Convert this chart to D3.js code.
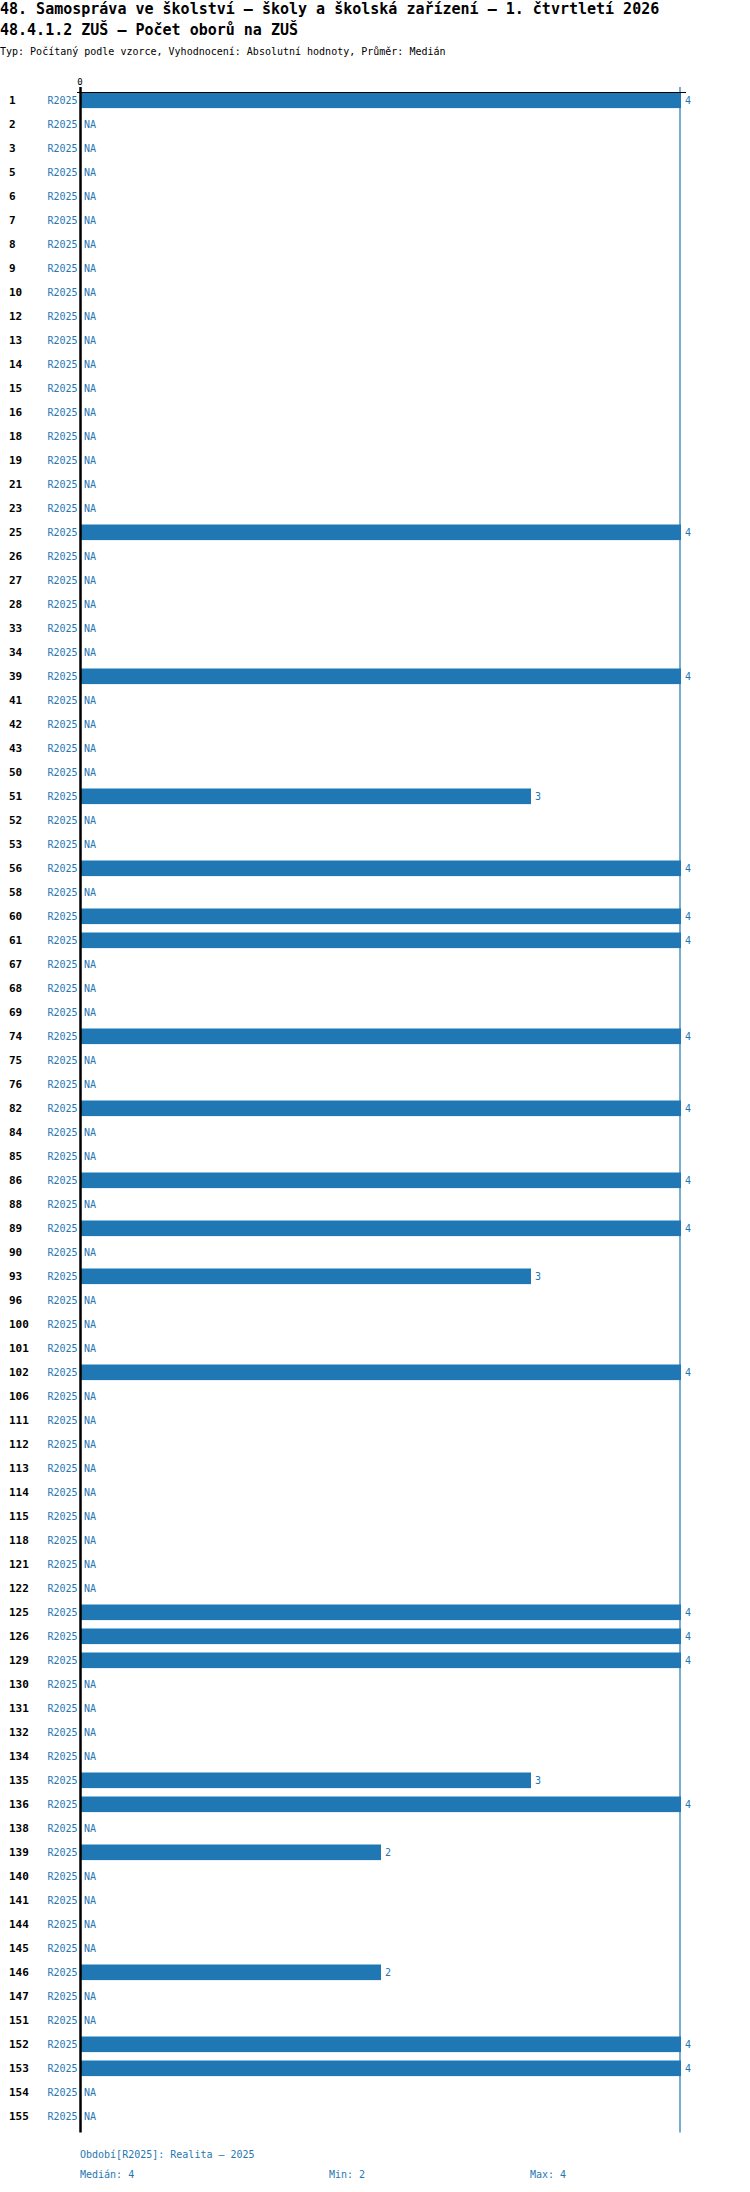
<!DOCTYPE html>
<html>
<head>
<meta charset="utf-8">
<script src="https://cdn.jsdelivr.net/npm/d3@7"></script>
<style>
  html, body { margin: 0; padding: 0; background: #fff; }
  text { font-family: "DejaVu Sans Mono", monospace; }
</style>
</head>
<body>
<svg id="chart" width="750" height="2192"></svg>
<script>
const titleLines = [
  "48. Samospráva ve školství – školy a školská zařízení – 1. čtvrtletí 2026",
  "48.4.1.2 ZUŠ – Počet oborů na ZUŠ"
];
const subtitle = "Typ: Počítaný podle vzorce, Vyhodnocení: Absolutní hodnoty, Průměr: Medián";
const categories = ["1","2","3","5","6","7","8","9","10","12","13","14","15","16","18","19","21","23","25","26","27","28","33","34","39","41","42","43","50","51","52","53","56","58","60","61","67","68","69","74","75","76","82","84","85","86","88","89","90","93","96","100","101","102","106","111","112","113","114","115","118","121","122","125","126","129","130","131","132","134","135","136","138","139","140","141","144","145","146","147","151","152","153","154","155"];
const seriesName = "R2025";
const values = [4,null,null,null,null,null,null,null,null,null,null,null,null,null,null,null,null,null,4,null,null,null,null,null,4,null,null,null,null,3,null,null,4,null,4,4,null,null,null,4,null,null,4,null,null,4,null,4,null,3,null,null,null,4,null,null,null,null,null,null,null,null,null,4,4,4,null,null,null,null,3,4,null,2,null,null,null,null,2,null,null,4,4,null,null];
const xTicks = [0];
const footerPeriod = "Období[R2025]: Realita – 2025";
const stats = { median: 4, min: 2, max: 4 };

const blue = "#1f77b4";
const svg = d3.select("#chart");
svg.append("rect").attr("width", 750).attr("height", 2192).attr("fill", "#fff");

// Titles
svg.append("text").attr("x", 0).attr("y", 14).attr("font-size", 15).attr("font-weight", "bold").text(titleLines[0]);
svg.append("text").attr("x", 0).attr("y", 35).attr("font-size", 15).attr("font-weight", "bold").text(titleLines[1]);
svg.append("text").attr("x", 0).attr("y", 55).attr("font-size", 10).text(subtitle);

const data = categories.map((c, i) => ({ cat: c, v: values[i] }));

const x = d3.scaleLinear().domain([0, 4]).range([81, 681]);
const y = d3.scaleBand().domain(categories).range([92.5, 2132.5])
  .paddingInner(0.35).paddingOuter(0.175).align(0);

const plotTop = y.range()[0], plotBottom = y.range()[1];

// Bars
svg.append("g").selectAll("rect").data(data.filter(d => d.v != null)).join("rect")
  .attr("x", x(0)).attr("y", d => y(d.cat))
  .attr("width", d => x(d.v) - x(0)).attr("height", y.bandwidth())
  .attr("fill", blue);

// Median line
svg.append("line")
  .attr("x1", x(stats.median) - 1).attr("x2", x(stats.median) - 1)
  .attr("y1", plotTop - 5.5).attr("y2", plotBottom)
  .attr("stroke", blue).attr("stroke-width", 1.2);

// Axes
svg.append("line").attr("x1", x(0) - 4).attr("x2", x(4) + 5)
  .attr("y1", plotTop).attr("y2", plotTop).attr("stroke", "#000").attr("stroke-width", 1.2);
svg.append("line").attr("x1", x(0) - 0.5).attr("x2", x(0) - 0.5)
  .attr("y1", plotTop - 5.5).attr("y2", plotBottom).attr("stroke", "#000").attr("stroke-width", 2.5);
svg.append("g").selectAll("text").data(xTicks).join("text")
  .attr("x", d => x(d) - 1).attr("y", plotTop - 8).attr("text-anchor", "middle")
  .attr("font-size", 9).text(d => d);

// Row labels
const rows = svg.append("g").selectAll("g").data(data).join("g");
rows.append("text").attr("x", 9).attr("y", d => y(d.cat) + y.bandwidth() / 2 + 4)
  .attr("font-size", 11).attr("font-weight", "bold").attr("fill", "#000").text(d => d.cat);
rows.append("text").attr("x", x(0) - 3.5).attr("y", d => y(d.cat) + y.bandwidth() / 2 + 4)
  .attr("font-size", 10).attr("text-anchor", "end").attr("fill", blue).text(seriesName);
rows.append("text")
  .attr("x", d => d.v == null ? x(0) + 3 : x(d.v) + 4)
  .attr("y", d => y(d.cat) + y.bandwidth() / 2 + 4)
  .attr("font-size", 10).attr("fill", blue).text(d => d.v == null ? "NA" : d.v);

// Footer
svg.append("text").attr("x", 80).attr("y", 2157.5).attr("font-size", 10).attr("fill", blue).text(footerPeriod);
svg.append("text").attr("x", 80).attr("y", 2177.5).attr("font-size", 10).attr("fill", blue).text("Medián: " + stats.median);
svg.append("text").attr("x", 329).attr("y", 2177.5).attr("font-size", 10).attr("fill", blue).text("Min: " + stats.min);
svg.append("text").attr("x", 530).attr("y", 2177.5).attr("font-size", 10).attr("fill", blue).text("Max: " + stats.max);
</script>
</body>
</html>
